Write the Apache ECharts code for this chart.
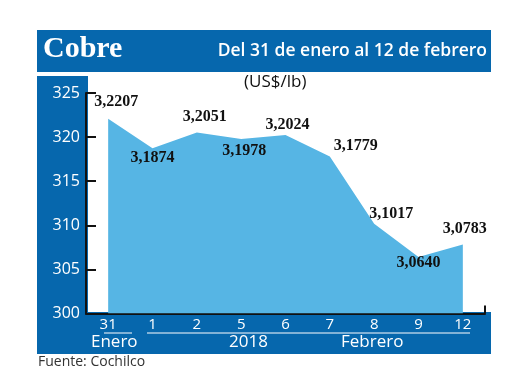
<!DOCTYPE html>
<html><head><meta charset="utf-8">
<script src="https://cdn.jsdelivr.net/npm/echarts@6/dist/echarts.min.js"></script>
<style>html,body{margin:0;padding:0;background:#fff}#c{width:520px;height:390px}</style>
</head><body><div id="c"></div>
<script>
var categories = ['31','1','2','5','6','7','8','9','12'];
var values = [322.07, 318.74, 320.51, 319.78, 320.24, 317.79, 310.17, 306.40, 307.83];
var labelTexts = ['3,2207','3,1874','3,2051','3,1978','3,2024','3,1779','3,1017','3,0640','3,0783'];
var labelSides = ['top','bottom','top','bottom','top','top','top','bottom','top'];
var labelOffsets = [[8,-3],[0,-4],[8,-2],[3,-2],[2,3],[26,3],[17,4],[0,-8],[2,-2]];
var yTicks = [300, 305, 310, 315, 320, 325];

var BLUE = '#0667ad';
var sans = '"Open Sans", sans-serif';
var chart = echarts.init(document.getElementById('c'));
var seriesData = values.map(function(v, i){
  return {value: v, label: {position: labelSides[i], offset: labelOffsets[i], formatter: labelTexts[i]}};
});
chart.setOption({
  animation: false,
  grid: {left: 86, right: 35, top: 93, bottom: 76.5},
  graphic: [
    {type:'rect', shape:{x:37,y:30,width:454,height:42}, style:{fill:BLUE}, z:-1},
    {type:'rect', shape:{x:37,y:76,width:51,height:278}, style:{fill:BLUE}, z:-1},
    {type:'rect', shape:{x:37,y:312,width:454,height:42}, style:{fill:BLUE}, z:-1},
    {type:'text', left:43, top:34, style:{text:'Cobre', fill:'#fff', font:'bold 30px "Liberation Serif", serif'}},
    {type:'text', right:33, top:42, style:{text:'Del 31 de enero al 12 de febrero', fill:'#fff', font:'600 17.5px ' + sans}},
    {type:'text', left:244, top:74, style:{text:'(US$/lb)', fill:'#111', font:'17px ' + sans}},
    {type:'line', shape:{x1:104,y1:333,x2:132,y2:333}, style:{stroke:'#fff', lineWidth:1}},
    {type:'line', shape:{x1:147,y1:333,x2:470,y2:333}, style:{stroke:'#fff', lineWidth:1}},
    {type:'text', left:91, top:334, style:{text:'Enero', fill:'#fff', font:'17px ' + sans}},
    {type:'text', left:229, top:334, style:{text:'2018', fill:'#fff', font:'17px ' + sans}},
    {type:'text', left:341, top:334, style:{text:'Febrero', fill:'#fff', font:'17px ' + sans}},
    {type:'text', left:38, top:355, style:{text:'Fuente: Cochilco', fill:'#333', font:'14px ' + sans}}
  ],
  xAxis: [
    {type:'category', data: categories, boundaryGap: true,
     axisLine:{show:false}, axisTick:{show:false},
     axisLabel:{color:'#fff', fontFamily: sans, fontSize:15, margin:4}},
    {type:'value', min:0, max:1, interval:1, position:'bottom',
     axisLine:{show:true, lineStyle:{color:'#111', width:2}},
     axisTick:{show:true, inside:true, length:8, lineStyle:{color:'#111', width:2}},
     axisLabel:{show:false}, splitLine:{show:false}}
  ],
  yAxis: {type:'value', min:300, max:325, interval:5,
    axisLine:{show:true, lineStyle:{color:'#111', width:2}},
    axisTick:{show:true, inside:true, length:10, lineStyle:{color:'#111', width:2}},
    axisLabel:{color:'#fff', fontFamily: sans, fontSize:16, margin:6},
    splitLine:{show:false}},
  series: [{
    type:'line', xAxisIndex:0, data: seriesData,
    symbol:'circle', symbolSize:1, showSymbol:true, itemStyle:{color:'rgba(0,0,0,0)'},
    lineStyle:{width:0}, areaStyle:{color:'#56b5e4', opacity:1},
    label:{show:true, color:'#111', fontFamily:'"Liberation Serif", serif', fontWeight:'bold', fontSize:16}
  }]
});
</script></body></html>
